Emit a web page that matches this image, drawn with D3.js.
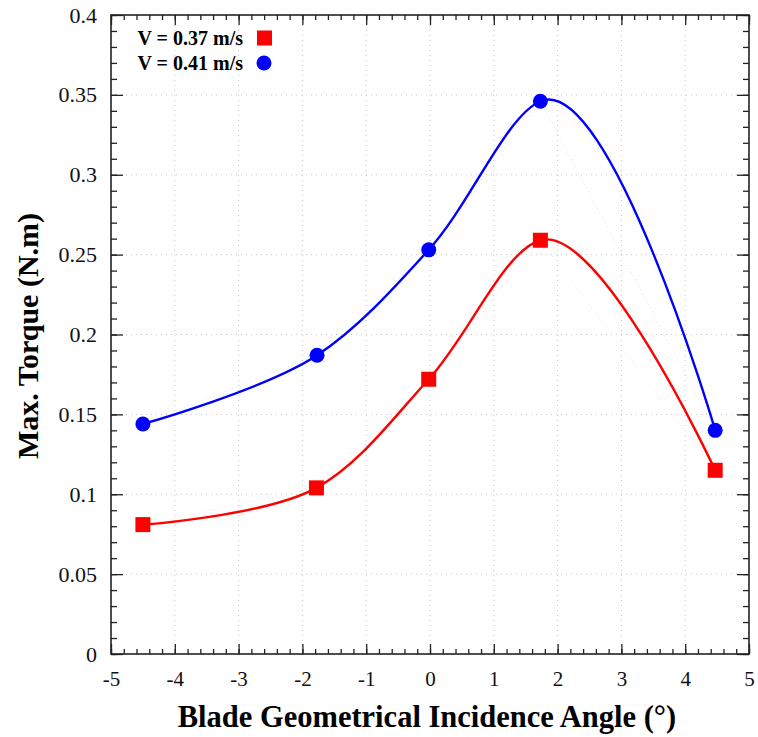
<!DOCTYPE html>
<html>
<head>
<meta charset="utf-8">
<script src="https://cdn.jsdelivr.net/npm/d3@7"></script>
<style>
  body { margin: 0; background: #fff; }
  text { font-family: "Liberation Serif", "Times New Roman", serif; }
</style>
</head>
<body>
<div id="chart"></div>
<script>
let angles_red = [-4.5, -1.78, -0.02, 1.73, 4.47];
let torque_red = [0.081, 0.104, 0.172, 0.259, 0.115];
let angles_blue = [-4.5, -1.77, -0.02, 1.73, 4.47];
let torque_blue = [0.144, 0.187, 0.253, 0.346, 0.14];
let x_ticks = [-5, -4, -3, -2, -1, 0, 1, 2, 3, 4, 5];
let y_ticks = [0, 0.05, 0.1, 0.15, 0.2, 0.25, 0.3, 0.35, 0.4];
let legend_labels = ['V = 0.37 m/s', 'V = 0.41 m/s'];

let chart_width = 758;
let chart_height = 737;
let plot_left = 111, plot_right = 749, plot_top = 15, plot_bottom = 654;
let serif = '"Liberation Serif", "Times New Roman", serif';

let svg = d3.select('#chart').append('svg')
  .attr('width', chart_width)
  .attr('height', chart_height);

let x_scale = d3.scaleLinear().domain([-5, 5]).range([plot_left, plot_right]);
let y_scale = d3.scaleLinear().domain([0, 0.4]).range([plot_bottom, plot_top]);

// dotted grid
svg.append('g').selectAll('line')
  .data(x_ticks.slice(1, -1))
  .enter().append('line')
  .attr('x1', d => x_scale(d)).attr('x2', d => x_scale(d))
  .attr('y1', plot_top).attr('y2', plot_bottom)
  .attr('stroke', '#c8c8c8').attr('stroke-width', 1)
  .attr('stroke-dasharray', '1,4');
svg.append('g').selectAll('line')
  .data(y_ticks.slice(1, -1))
  .enter().append('line')
  .attr('y1', d => y_scale(d)).attr('y2', d => y_scale(d))
  .attr('x1', plot_left).attr('x2', plot_right)
  .attr('stroke', '#c8c8c8').attr('stroke-width', 1)
  .attr('stroke-dasharray', '1,4');

// axes: ticks pointing inward, minor ticks between
let x_minor = d3.range(-5, 5.001, 0.2);
let y_minor = d3.range(0, 0.4001, 0.01);

svg.append('g').attr('transform', 'translate(0,' + plot_bottom + ')')
  .call(d3.axisBottom(x_scale).tickValues(x_minor).tickSize(-5).tickFormat(''))
  .call(g => g.select('.domain').remove());
svg.append('g').attr('transform', 'translate(0,' + plot_top + ')')
  .call(d3.axisTop(x_scale).tickValues(x_minor).tickSize(-5).tickFormat(''))
  .call(g => g.select('.domain').remove());
svg.append('g').attr('transform', 'translate(' + plot_left + ',0)')
  .call(d3.axisLeft(y_scale).tickValues(y_minor).tickSize(-6).tickFormat(''))
  .call(g => g.select('.domain').remove());
svg.append('g').attr('transform', 'translate(' + plot_right + ',0)')
  .call(d3.axisRight(y_scale).tickValues(y_minor).tickSize(-6).tickFormat(''))
  .call(g => g.select('.domain').remove());

svg.append('g').attr('class', 'x-axis')
  .attr('transform', 'translate(0,' + plot_bottom + ')')
  .call(d3.axisBottom(x_scale).tickValues(x_ticks).tickSize(-10).tickPadding(17).tickFormat(d => String(d)));
svg.append('g').attr('transform', 'translate(0,' + plot_top + ')')
  .call(d3.axisTop(x_scale).tickValues(x_ticks).tickSize(-10).tickFormat(''))
  .call(g => g.select('.domain').remove());
svg.append('g').attr('class', 'y-axis')
  .attr('transform', 'translate(' + plot_left + ',0)')
  .call(d3.axisLeft(y_scale).tickValues(y_ticks).tickSize(-12).tickPadding(14).tickFormat(d => String(d)));
svg.append('g').attr('transform', 'translate(' + plot_right + ',0)')
  .call(d3.axisRight(y_scale).tickValues(y_ticks).tickSize(-12).tickFormat(''))
  .call(g => g.select('.domain').remove());

svg.selectAll('.tick line').attr('stroke', '#222').attr('stroke-width', 1.3);
svg.selectAll('.x-axis, .y-axis').attr('font-family', serif);
svg.selectAll('.x-axis text').attr('fill', '#111').style('font-size', '21px');
svg.selectAll('.y-axis text').attr('fill', '#111').style('font-size', '22px');
svg.selectAll('.x-axis .domain, .y-axis .domain').remove();

// frame
svg.append('rect')
  .attr('x', plot_left).attr('y', plot_top)
  .attr('width', plot_right - plot_left).attr('height', plot_bottom - plot_top)
  .attr('fill', 'none').attr('stroke', '#222').attr('stroke-width', 1.6);

let series = [
  { xs: angles_red, ys: torque_red, color: '#ff0000', shape: 'square' },
  { xs: angles_blue, ys: torque_blue, color: '#0000ff', shape: 'circle' }
];

let straight = d3.line().x(d => x_scale(d[0])).y(d => y_scale(d[1]));
let smooth = d3.line().x(d => x_scale(d[0])).y(d => y_scale(d[1])).curve(d3.curveCatmullRom.alpha(1));

series.forEach(s => {
  let pts = s.xs.map((x, i) => [x, s.ys[i]]);
  svg.append('path').attr('d', straight(pts))
    .attr('fill', 'none').attr('stroke', s.color).attr('stroke-opacity', 0.12)
    .attr('stroke-width', 1).attr('stroke-dasharray', '1,3');
  svg.append('path').attr('d', smooth(pts))
    .attr('fill', 'none').attr('stroke', s.color).attr('stroke-width', 2.4);
  let g = svg.append('g');
  if (s.shape === 'square') {
    g.selectAll('rect').data(pts).enter().append('rect')
      .attr('x', d => x_scale(d[0]) - 7.5).attr('y', d => y_scale(d[1]) - 7.5)
      .attr('width', 15).attr('height', 15).attr('fill', s.color);
  } else {
    g.selectAll('circle').data(pts).enter().append('circle')
      .attr('cx', d => x_scale(d[0])).attr('cy', d => y_scale(d[1]))
      .attr('r', 7.5).attr('fill', s.color);
  }
});

// legend
let legend = svg.append('g');
legend_labels.forEach((label, i) => {
  let y = 38 + i * 25;
  legend.append('text').attr('x', 243).attr('y', y).attr('dy', '0.35em')
    .attr('text-anchor', 'end').attr('font-size', 20).attr('font-weight', 'bold')
    .text(label);
  if (i === 0) {
    legend.append('rect').attr('x', 257).attr('y', y - 7.5)
      .attr('width', 15).attr('height', 15).attr('fill', series[0].color);
  } else {
    legend.append('circle').attr('cx', 264).attr('cy', y).attr('r', 7.5)
      .attr('fill', series[1].color);
  }
});

// axis titles
svg.append('text')
  .attr('x', 427).attr('y', 727)
  .attr('text-anchor', 'middle').attr('font-size', 30.5).attr('font-weight', 'bold')
  .text('Blade Geometrical Incidence Angle (°)');
svg.append('text')
  .attr('transform', 'translate(38,336) rotate(-90)')
  .attr('text-anchor', 'middle').attr('font-size', 30).attr('font-weight', 'bold')
  .text('Max. Torque (N.m)');
</script>
</body>
</html>
